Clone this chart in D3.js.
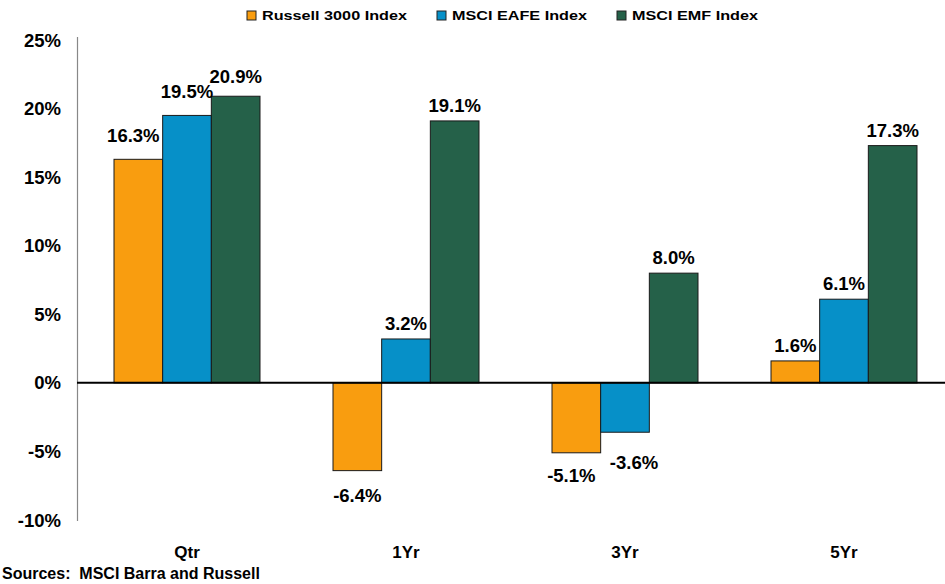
<!DOCTYPE html>
<html>
<head>
<meta charset="utf-8">
<script src="https://cdn.jsdelivr.net/npm/d3@7"></script>
<style>
  html, body { margin: 0; padding: 0; background: #fff; }
  svg { display: block; font-family: "Liberation Sans", Arial, sans-serif; font-weight: bold; }
  text { white-space: pre; }
</style>
</head>
<body>
<svg id="chart" width="945" height="584"></svg>
<script>
// ---- Data ----
const categories = ["Qtr", "1Yr", "3Yr", "5Yr"];
const seriesNames = ["Russell 3000 Index", "MSCI EAFE Index", "MSCI EMF Index"];
const russell3000 = [16.3, -6.4, -5.1, 1.6];
const msciEafe = [19.5, 3.2, -3.6, 6.1];
const msciEmf = [20.9, 19.1, 8.0, 17.3];
const yTicks = [-10, -5, 0, 5, 10, 15, 20, 25];
const sourceNote = "Sources:  MSCI Barra and Russell";

const seriesValues = [russell3000, msciEafe, msciEmf];
const colors = ["#F99D0F", "#0690C8", "#256149"];

// label nudges (layout only): "seriesIndex-categoryIndex" -> [dx, dy]
const nudges = {
  "0-0": [-5, -8],
  "1-0": [0, -8],
  "2-0": [0, -4],
  "0-2": [-5, 0],
  "1-2": [9, 8],
  "0-1": [0, 2]
};

const fmt = v => v.toFixed(1) + "%";

const svg = d3.select("#chart");

const y = d3.scaleLinear().domain([-10, 25]).range([520, 40]);
const x0 = d3.scaleBand().domain(categories).range([77.5, 953.5]).paddingInner(0).paddingOuter(0);
const x1 = d3.scaleBand().domain(d3.range(seriesNames.length)).range([0, x0.bandwidth()])
  .paddingInner(0).paddingOuter(0.75);

// y-axis tick labels
svg.append("g").selectAll("text").data(yTicks).join("text")
  .attr("x", 61)
  .attr("y", d => y(d) + 6.5)
  .attr("text-anchor", "end")
  .attr("font-size", 18.5)
  .attr("fill", "#000")
  .text(d => d + "%");

// y axis line
svg.append("line")
  .attr("x1", 77.5).attr("x2", 77.5)
  .attr("y1", 37).attr("y2", y(-10) + 1)
  .attr("stroke", "#888").attr("stroke-width", 1.2);

// bars
const flat = [];
categories.forEach((c, ci) => {
  seriesValues.forEach((vals, si) => {
    flat.push({ c, ci, si, v: vals[ci] });
  });
});

svg.append("g").selectAll("rect").data(flat).join("rect")
  .attr("x", d => x0(d.c) + x1(d.si))
  .attr("width", x1.bandwidth())
  .attr("y", d => y(Math.max(0, d.v)))
  .attr("height", d => Math.abs(y(d.v) - y(0)))
  .attr("fill", d => colors[d.si])
  .attr("stroke", "#1a1a1a")
  .attr("stroke-width", 1);

// zero line
svg.append("line")
  .attr("x1", 77).attr("x2", 945)
  .attr("y1", y(0)).attr("y2", y(0))
  .attr("stroke", "#000").attr("stroke-width", 2);

// data labels
svg.append("g").selectAll("text").data(flat).join("text")
  .attr("x", d => x0(d.c) + x1(d.si) + x1.bandwidth() / 2 + (nudges[d.si + "-" + d.ci] || [0, 0])[0])
  .attr("y", d => (d.v >= 0 ? y(d.v) - 9 : y(d.v) + 29) + (nudges[d.si + "-" + d.ci] || [0, 0])[1])
  .attr("text-anchor", "middle")
  .attr("font-size", 18.5)
  .attr("fill", "#000")
  .text(d => fmt(d.v));

// category labels
svg.append("g").selectAll("text").data(categories).join("text")
  .attr("x", d => x0(d) + x0.bandwidth() / 2)
  .attr("y", 558)
  .attr("text-anchor", "middle")
  .attr("font-size", 17)
  .attr("fill", "#000")
  .text(d => d);

// source note
svg.append("text")
  .attr("x", 2).attr("y", 579)
  .attr("font-size", 16)
  .attr("fill", "#000")
  .text(sourceNote);

// legend
const legendX = [247, 437, 617];
const legend = svg.append("g");
seriesNames.forEach((name, i) => {
  legend.append("rect")
    .attr("x", legendX[i]).attr("y", 11)
    .attr("width", 9).attr("height", 9)
    .attr("fill", colors[i]).attr("stroke", "#222").attr("stroke-width", 1);
  legend.append("text")
    .attr("transform", `translate(${legendX[i] + 15},20) scale(1.2,1)`)
    .attr("font-size", 13.5)
    .attr("fill", "#000")
    .text(name);
});
</script>
</body>
</html>
